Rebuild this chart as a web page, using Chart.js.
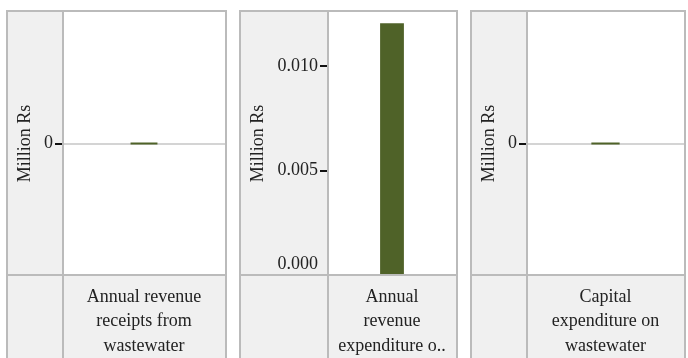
<!DOCTYPE html>
<html>
<head>
<meta charset="utf-8">
<script src="https://cdn.jsdelivr.net/npm/chart.js@4/dist/chart.umd.min.js"></script>
<style>
  html, body { margin: 0; padding: 0; background: #ffffff; width: 688px; height: 358px; overflow: hidden; }
  canvas { position: absolute; }
</style>
</head>
<body>
<canvas id="c0"></canvas>
<canvas id="c1"></canvas>
<canvas id="c2"></canvas>
<script>
// ---- data ----
const categories = [
  ['Annual revenue', 'receipts from', 'wastewater'],
  ['Annual', 'revenue', 'expenditure o..'],
  ['Capital', 'expenditure on', 'wastewater']
];
const values = [0, 0.01205, 0];
const yTitle = 'Million Rs';
const yTicks0 = [0];
const yTicks1 = [0, 0.005, 0.010];
const yTicks2 = [0];
const yTickLabels0 = ['0'];
const yTickLabels1 = ['0.000', '0.005', '0.010'];
const yTickLabels2 = ['0'];
const yMin = [-1, 0, -1];
const yMax = [1, 0.012584, 1];

// ---- layout / style ----
const panels = [
  { left: 6,   top: 10, width: 221, axisW: 57, barPct: 0.166, ticks: yTicks0, labels: yTickLabels0, zeroLine: true },
  { left: 239, top: 10, width: 219, axisW: 89, barPct: 0.186, ticks: yTicks1, labels: yTickLabels1, zeroLine: false },
  { left: 470, top: 10, width: 216, axisW: 57, barPct: 0.18,  ticks: yTicks2, labels: yTickLabels2, zeroLine: true }
];
const H = 360;
const chartBottom = 265;
const FONT = "'Palatino Linotype', 'Book Antiqua', Palatino, 'Liberation Serif', serif";
const BAR = '#4f6228';
const TXT = '#222222';
const BORDER = '#bbbbbb';
const BG = '#f0f0f0';

const frame = {
  id: 'frame',
  beforeDraw(chart) {
    const { ctx, chartArea: a, width: w, height: h } = chart;
    ctx.save();
    ctx.fillStyle = BG;
    ctx.fillRect(0, 0, w, h);
    ctx.fillStyle = '#ffffff';
    ctx.fillRect(a.left, a.top, a.right - a.left, a.bottom - a.top);
    ctx.restore();
  },
  afterDraw(chart) {
    const { ctx, chartArea: a, width: w, height: h } = chart;
    ctx.save();
    ctx.strokeStyle = BORDER;
    ctx.lineWidth = 2;
    ctx.strokeRect(1, 1, w - 2, h + 20);
    ctx.beginPath();
    ctx.moveTo(a.left, 0); ctx.lineTo(a.left, h);
    ctx.moveTo(0, a.bottom); ctx.lineTo(w, a.bottom);
    ctx.stroke();
    ctx.restore();
  }
};

panels.forEach((p, i) => {
  const cv = document.getElementById('c' + i);
  cv.width = p.width; cv.height = H;
  cv.style.left = p.left + 'px'; cv.style.top = p.top + 'px';
  cv.style.width = p.width + 'px'; cv.style.height = H + 'px';
  new Chart(cv, {
    type: 'bar',
    data: {
      labels: [categories[i]],
      datasets: [{
        data: [values[i]],
        backgroundColor: BAR,
        borderWidth: 0,
        minBarLength: 2,
        barPercentage: p.barPct,
        categoryPercentage: 1
      }]
    },
    options: {
      responsive: false,
      animation: false,
      devicePixelRatio: 1,
      layout: { padding: { top: 2, right: 2, left: 0, bottom: 0 } },
      plugins: { legend: { display: false }, tooltip: { enabled: false } },
      scales: {
        x: {
          type: 'category',
          offset: true,
          grid: { display: false, drawTicks: false },
          border: { display: false },
          ticks: {
            color: TXT,
            font: { family: FONT, size: 18, lineHeight: 1.36 },
            padding: 10,
            maxRotation: 0, minRotation: 0, autoSkip: false
          },
          afterFit: (s) => { s.height = H - chartBottom; s.paddingLeft = 0; s.paddingRight = 0; }
        },
        y: {
          min: yMin[i],
          max: yMax[i],
          afterBuildTicks: (s) => { s.ticks = p.ticks.map(v => ({ value: v })); },
          afterFit: (s) => { s.width = p.axisW; s.paddingTop = 0; s.paddingBottom = 0; },
          border: { display: false },
          grid: {
            drawOnChartArea: true,
            color: p.zeroLine ? '#d4d4d4' : 'rgba(0,0,0,0)',
            lineWidth: 2,
            tickLength: 8,
            tickWidth: 2,
            tickColor: (ctx) => (ctx.tick && ctx.tick.value === yMin[i]) ? 'rgba(0,0,0,0)' : '#111111'
          },
          ticks: {
            color: TXT,
            padding: 2,
            font: { family: FONT, size: 18, lineHeight: 1.2 },
            callback: (v, idx) => {
              const lbl = p.labels[idx];
              return v === yMin[i] ? [lbl, ''] : lbl;
            }
          },
          title: {
            display: true,
            text: yTitle,
            color: TXT,
            font: { family: FONT, size: 18, lineHeight: 1.2 },
            padding: { top: 8, bottom: 0 }
          }
        }
      }
    },
    plugins: [frame]
  });
});
</script>
</body>
</html>
